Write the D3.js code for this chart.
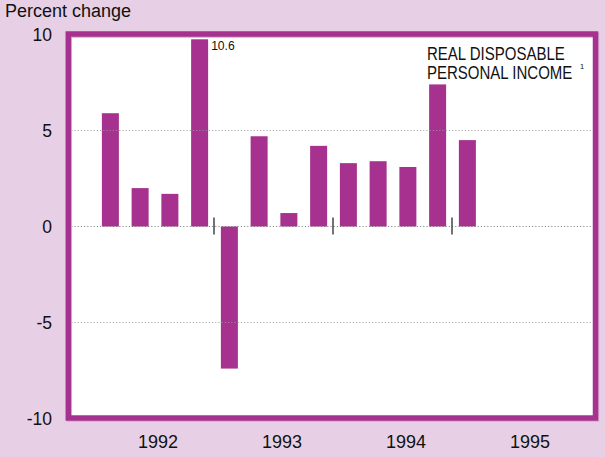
<!DOCTYPE html>
<html>
<head>
<meta charset="utf-8">
<script src="https://cdn.jsdelivr.net/npm/d3@7"></script>
<style>
  html, body { margin: 0; padding: 0; background: #e7d0e6; }
  svg { display: block; font-family: "Liberation Sans", Arial, sans-serif; }
</style>
</head>
<body>
<div class="canvas"></div>
<script>
// quarterly data, 1992:I through 1995:I
const quarters = ["1992Q1", "1992Q2", "1992Q3", "1992Q4",
                  "1993Q1", "1993Q2", "1993Q3", "1993Q4",
                  "1994Q1", "1994Q2", "1994Q3", "1994Q4", "1995Q1"];
const values = [5.9, 2.0, 1.7, 10.6, -7.4, 4.7, 0.7, 4.2, 3.3, 3.4, 3.1, 7.4, 4.5];
const years = [1992, 1993, 1994, 1995];
const yTicks = [-10, -5, 0, 5, 10];
const gridTicks = [-5, 0, 5];
const barClip = 9.75; // bars above this are cut off and labelled

const dims = { width: 605, height: 457 };
const colors = { bg: "#e7d0e6", frame: "#a6328f", bar: "#a6318e", text: "#111" };

const svg = d3
  .select(".canvas")
  .append("svg")
  .attr("width", dims.width)
  .attr("height", dims.height);

svg.append("rect")
  .attr("width", dims.width)
  .attr("height", dims.height)
  .attr("fill", colors.bg);

// scales
const y = d3.scaleLinear().domain([-10, 10]).range([418.5, 34.5]);
const x = d3.scaleLinear().domain([1992, 1996]).range([95.5, 571.5]);
const yearLabelX = d3.scalePoint().domain(years).range([158, 530]);
const barW = 17;

const frame = { left: 68.3, right: 595.5, top: y(10) - 0.5, bottom: y(-10) - 0.5 };

// white plot area
svg.append("rect")
  .attr("x", frame.left)
  .attr("y", frame.top)
  .attr("width", frame.right - frame.left)
  .attr("height", frame.bottom - frame.top)
  .attr("fill", "white");

// bars
const qPos = (i) => x(1992 + (i + 0.5) / 4);

svg.append("g")
  .selectAll("rect")
  .data(values)
  .enter()
  .append("rect")
  .attr("x", (d, i) => qPos(i) - barW / 2)
  .attr("y", (d) => y(Math.max(0, Math.min(d, barClip))))
  .attr("width", barW)
  .attr("height", (d) => Math.abs(y(Math.min(d, barClip)) - y(0)))
  .attr("fill", colors.bar);

// value label for the clipped bar
values.forEach((v, i) => {
  if (v > barClip) {
    svg.append("text")
      .attr("transform", `translate(${qPos(i) + barW / 2 + 3}, ${y(barClip) + 11}) scale(0.9, 1)`)
      .attr("font-size", 13.5)
      .attr("fill", colors.text)
      .text(v.toFixed(1));
  }
});

// dotted grid lines, over the bars
svg.append("g")
  .selectAll("line")
  .data(gridTicks)
  .enter()
  .append("line")
  .attr("x1", frame.left + 3)
  .attr("x2", frame.right - 3)
  .attr("y1", (d) => y(d))
  .attr("y2", (d) => y(d))
  .attr("stroke", (d) => (d === 0 ? "#777" : "#999"))
  .attr("stroke-width", 1)
  .attr("stroke-dasharray", "1,2.2");

// year separators on the zero line
svg.append("g")
  .selectAll("line")
  .data(years.slice(1))
  .enter()
  .append("line")
  .attr("x1", (d) => x(d) - 0.5)
  .attr("x2", (d) => x(d) - 0.5)
  .attr("y1", y(0) - 9)
  .attr("y2", y(0) + 8)
  .attr("stroke", "#444")
  .attr("stroke-width", 1.5);

// frame with a faint edge
svg.append("rect")
  .attr("x", frame.left + 1)
  .attr("y", frame.top + 1)
  .attr("width", frame.right - frame.left)
  .attr("height", frame.bottom - frame.top)
  .attr("fill", "none")
  .attr("stroke", "#d9a9d2")
  .attr("stroke-width", 5.5);

svg.append("rect")
  .attr("x", frame.left)
  .attr("y", frame.top)
  .attr("width", frame.right - frame.left)
  .attr("height", frame.bottom - frame.top)
  .attr("fill", "none")
  .attr("stroke", colors.frame)
  .attr("stroke-width", 5.5);

// y tick labels
svg.append("g")
  .selectAll("text")
  .data(yTicks)
  .enter()
  .append("text")
  .attr("x", 52)
  .attr("y", (d) => y(d) + 6)
  .attr("text-anchor", "end")
  .attr("font-size", 17.5)
  .attr("fill", colors.text)
  .text((d) => d);

// year labels
svg.append("g")
  .selectAll("text")
  .data(years)
  .enter()
  .append("text")
  .attr("x", (d) => yearLabelX(d))
  .attr("y", 448)
  .attr("text-anchor", "middle")
  .attr("font-size", 18)
  .attr("fill", colors.text)
  .text((d) => d);

// axis title
svg.append("text")
  .attr("x", 5)
  .attr("y", 17)
  .attr("font-size", 18)
  .attr("fill", colors.text)
  .text("Percent change");

// series label, set in a narrow face
const legend = svg.append("g")
  .attr("fill", colors.text)
  .attr("transform", "translate(427, 0) scale(0.79, 1)");
legend.append("text")
  .attr("y", 60.5)
  .attr("font-size", 19)
  .text("REAL DISPOSABLE");
legend.append("text")
  .attr("y", 79)
  .attr("font-size", 19)
  .text("PERSONAL INCOME");
svg.append("text")
  .attr("x", 580)
  .attr("y", 69)
  .attr("font-size", 7.5)
  .attr("fill", colors.text)
  .text("1");
</script>
</body>
</html>
